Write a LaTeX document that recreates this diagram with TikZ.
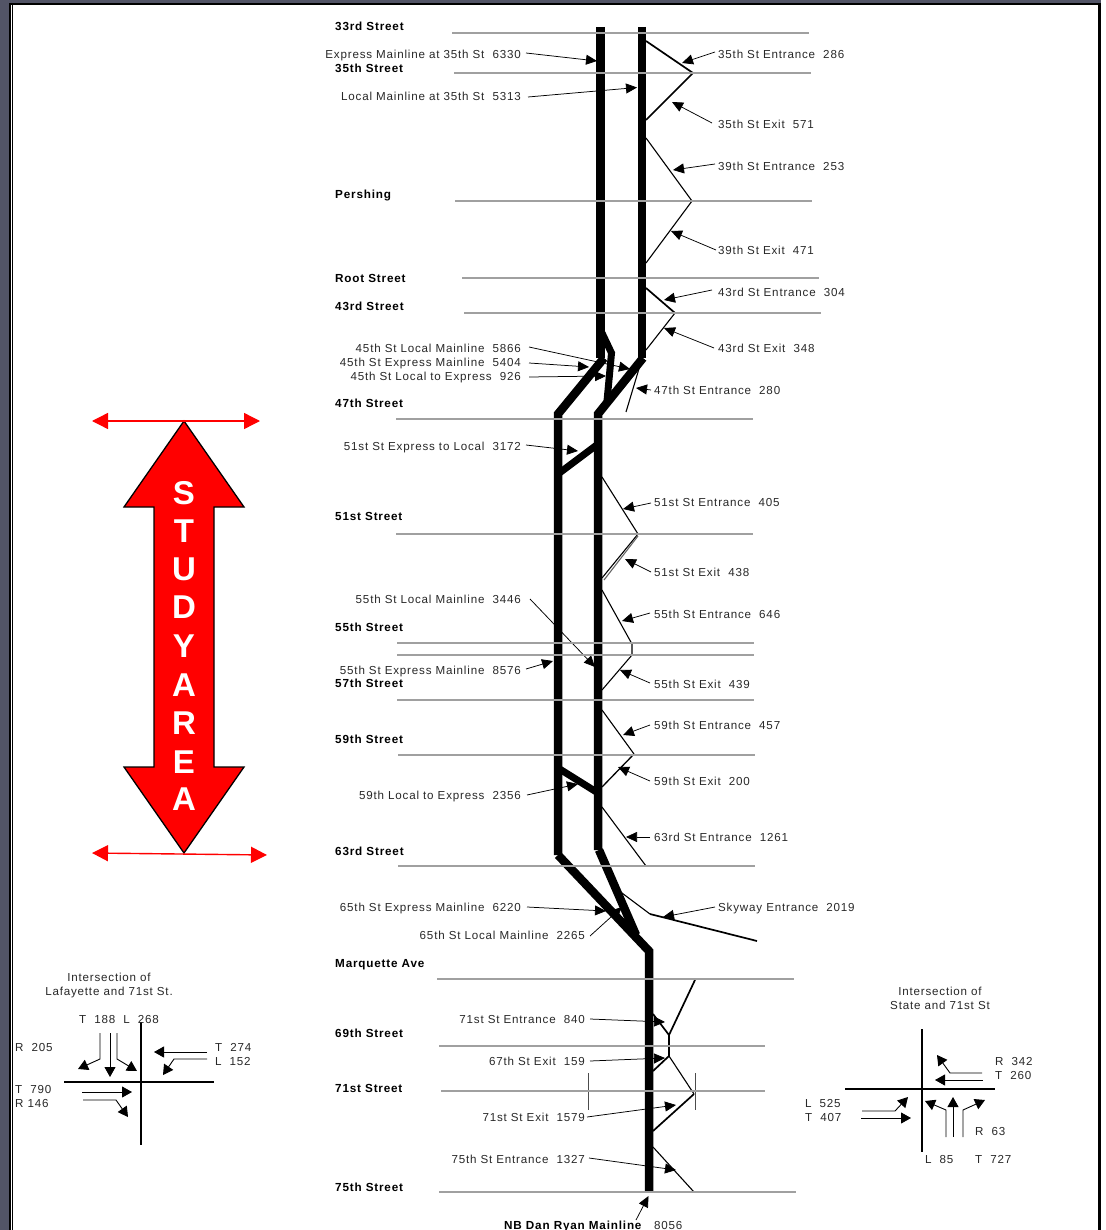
\documentclass[tikz,border=0pt]{standalone}
\usepackage{fontspec}
\setmainfont{Liberation Sans}
\usetikzlibrary{arrows.meta}
\definecolor{streetgrey}{RGB}{160,160,160}
\definecolor{framedark}{RGB}{82,84,102}
\definecolor{labelgrey}{RGB}{40,40,40}
\newfontfamily\lblfont[LetterSpace=7]{Liberation Sans}
\newfontfamily\boldlbl[LetterSpace=7]{Liberation Sans Bold}
\tikzset{
  x=1pt,y=-1pt,
  tl/.style={font=\lblfont\fontsize{11.6}{13}\selectfont,text=labelgrey,inner sep=0pt,anchor=base west},
  tr/.style={font=\lblfont\fontsize{11.6}{13}\selectfont,text=labelgrey,inner sep=0pt,anchor=base east},
  tc/.style={font=\lblfont\fontsize{11.6}{13}\selectfont,text=labelgrey,inner sep=0pt,anchor=base},
  street/.style={font=\boldlbl\fontsize{11.7}{13}\selectfont,inner sep=0pt,anchor=base west},
  streetline/.style={draw=streetgrey,line width=1.3pt},
  lead/.style={draw=black,line width=.75pt,-{Triangle[length=11pt,width=10pt]}},
  main/.style={line width=8.5pt,line join=miter,draw=black},
  conn/.style={line width=7pt,line join=miter,draw=black},
  ramp/.style={draw=black,line width=1.1pt},
  rampb/.style={draw=black,line width=1.7pt},
  xbar/.style={draw=black,line width=1.7pt},
  turn/.style={draw=black,line width=.9pt,-{Triangle[length=10pt,width=11pt]}},
  redarr/.style={draw=red,line width=1.4pt,{Triangle[length=16pt,width=16pt]}-{Triangle[length=16pt,width=16pt]}},
  studyl/.style={font=\fontsize{33}{36}\selectfont\bfseries,text=white,inner sep=0pt,anchor=center},
}
\begin{document}
\begin{tikzpicture}
\useasboundingbox (0,0) rectangle (1105,1230);
\clip (0,0) rectangle (1105,1230);
% frame
\fill[white] (0,0) rectangle (1105,1230);
\fill[framedark] (0,0) rectangle (9,1230);
\fill[framedark] (0,0) rectangle (1100.7,3.3);
\fill[black] (9,3.3) rectangle (10.7,1230);
\fill[black] (11.7,3.3) rectangle (13.3,1230);
\fill[black] (9,3.3) rectangle (1100.7,5.5);
\fill[black] (1098,3.3) rectangle (1100.7,1230);

% ends of the leaders
\foreach \n/\x/\y in {
  aS/526/53,aT/597/61,bS/528/97,bT/637/87.5,cS/715/52,cT/682/63,dS/712/123,dT/672/102,
  eS/715/164,eT/673/170,fS/716/250,fT/671/231,gS/712/290,gT/664/300,hS/714/348,hT/664/328,
  iS/529/347,iT/630/369,jS/529/363,jT/589/367,kS/529/377,kT/606/376,lS/651/390,lT/636/388,
  mS/526/445,mT/578/451,nS/651/503,nT/623/509,oS/651/572,oT/625/559,pS/650/613,pT/622/621,
  qS/530/599,qT/595/667,rS/526/669,rT/553/661,sS/650/683,sT/620/670,tS/650/725,tT/623/735,
  uS/650/781,uT/618/767,vS/527/795,vT/578/784,wS/650/837,wT/626/837,xS/527/907,xT/606/911,
  yS/590/936,yT/622/907,zS/715/907,zT/663/917,
  AS/590/1019,AT/665/1022,BS/590/1061,BT/665/1058,CS/587/1117,CT/676/1105,DS/589/1158,DT/676/1170,
  ES/636/1220,ET/648.5/1196}{
  \coordinate (\n) at (\x,\y);
}
\foreach \n in {a,b,c,d,e,f,g,h,i,j,k,l,m,n,o,p,q,r,s,t,u,v,w,x,y,z,A,B,C,D,E}{
  \draw[lead] (\n S) -- (\n T);
}

% ramps
\draw[rampb] (646,41) -- (693,73) -- (646,120);
\draw[ramp] (646,138) -- (692,201) -- (646,263);
\draw[rampb] (646,288) -- (675,313);
\draw[ramp] (675,313) -- (646,350);
\draw[ramp] (641,362) -- (626,412);
\draw[ramp] (602,477) -- (638,534) -- (602,578);
\draw[ramp,draw=black!60] (638,536) -- (604,580);
\draw[ramp] (602,590) -- (632,644) -- (632,655) -- (602,690);
\draw[ramp] (602,710) -- (634,754);
\draw[rampb,line width=1.3pt] (634,754) -- (602,787);
\draw[ramp] (602,807) -- (646,866);
\draw[ramp] (618,890) -- (650,914);
\draw[rampb] (650,914) -- (757,941);
\draw[rampb] (653,1014) -- (669,1035) -- (695,980);
\draw[rampb] (669,1035) -- (669,1056) -- (653,1071);
\draw[ramp] (669,1056) -- (694,1094);
\draw[rampb] (694,1094) -- (653,1131);
\draw[ramp] (653,1147) -- (694,1192);
\draw[draw=black!70,line width=1pt] (588,1073) -- (588,1110);
\draw[draw=black!70,line width=1pt] (695,1073) -- (695,1110);

% mainlines
\draw[main] (600.5,27) -- (600.5,358);
\draw[main] (642,27) -- (642,358);
\draw[main] (604,358) -- (558,414) -- (558,855);
\draw[main] (643,358) -- (598,414) -- (598,850);
\draw[conn] (602,333) -- (611.5,353) -- (607,401);
\draw[conn] (558,474) -- (598,444);
\draw[conn] (558,768) -- (598,793);
\draw[main] (558,855) -- (649,951) -- (649,1192);
\draw[main] (599,850) -- (636,935);

% street lines
\foreach \xa/\xb/\yy in {452/809/33,454/811/73,455/812/201,462/819/278,464/821/313,396/753/419,396/753/534,397/754/643,397/754/655,397/754/700,398/755/755,398/755/866,437/794/979,439/765/1046,441/765/1091,439/796/1192}{
  \draw[streetline] (\xa,\yy) -- (\xb,\yy);
}

% street names
\node[street] (s33) at (335,30.5) {33rd Street};
\node[street] (s35) at (335,73) {35th Street};
\node[street] (sPe) at (335,199) {Pershing};
\node[street] (sRo) at (335,283) {Root Street};
\node[street] (s43) at (335,310) {43rd Street};
\node[street] (s47) at (335,407.5) {47th Street};
\node[street] (s51) at (335,520) {51st Street};
\node[street] (s55) at (335,631.5) {55th Street};
\node[street] (s57) at (335,687.5) {57th Street};
\node[street] (s59) at (335,743.5) {59th Street};
\node[street] (s63) at (335,855.5) {63rd Street};
\node[street] (sMa) at (335,967) {Marquette Ave};
\node[street] (s69) at (335,1037) {69th Street};
\node[street] (s71) at (335,1092.5) {71st Street};
\node[street] (s75) at (335,1191) {75th Street};

% labels, left side
\node[tr] (la) at (521,59) {Express Mainline at 35th St\ \ 6330};
\node[tr] (lb) at (521,101) {Local Mainline at 35th St\ \ 5313};
\node[tr] (li) at (521,352) {45th St Local Mainline\ \ 5866};
\node[tr] (lj) at (521,366) {45th St Express Mainline\ \ 5404};
\node[tr] (lk) at (521,380) {45th St Local to Express\ \ 926};
\node[tr] (lm) at (521,450) {51st St Express to Local\ \ 3172};
\node[tr] (lq) at (521,603.5) {55th St Local Mainline\ \ 3446};
\node[tr] (lr) at (521,674) {55th St Express Mainline\ \ 8576};
\node[tr] (lv) at (521,799.5) {59th Local to Express\ \ 2356};
\node[tr] (lx) at (521,911.5) {65th St Express Mainline\ \ 6220};
\node[tr] (ly) at (585,939.5) {65th St Local Mainline\ \ 2265};
\node[tr] (lA) at (585,1023) {71st St Entrance\ \ 840};
\node[tr] (lB) at (585,1065) {67th St Exit\ \ 159};
\node[tr] (lC) at (585,1121) {71st St Exit\ \ 1579};
\node[tr] (lD) at (585,1163) {75th St Entrance\ \ 1327};
% labels, right side
\node[tl] (lc) at (718,59) {35th St Entrance\ \ 286};
\node[tl] (ld) at (718,129) {35th St Exit\ \ 571};
\node[tl] (le) at (718,171) {39th St Entrance\ \ 253};
\node[tl] (lf) at (718,255) {39th St Exit\ \ 471};
\node[tl] (lg) at (718,297) {43rd St Entrance\ \ 304};
\node[tl] (lh) at (718,352) {43rd St Exit\ \ 348};
\node[tl] (ll) at (654,394) {47th St Entrance\ \ 280};
\node[tl] (ln) at (654,506) {51st St Entrance\ \ 405};
\node[tl] (lo) at (654,576) {51st St Exit\ \ 438};
\node[tl] (lp) at (654,618) {55th St Entrance\ \ 646};
\node[tl] (ls) at (654,688) {55th St Exit\ \ 439};
\node[tl] (lt) at (654,729.5) {59th St Entrance\ \ 457};
\node[tl] (lu) at (654,785.5) {59th St Exit\ \ 200};
\node[tl] (lw) at (654,841.5) {63rd St Entrance\ \ 1261};
\node[tl] (lz) at (718,911.5) {Skyway Entrance\ \ 2019};
\node[anchor=base west,inner sep=0pt,font=\boldlbl\fontsize{11.7}{13}\selectfont] (lE) at (504,1229.5) {NB Dan Ryan Mainline};
\node[tl] (lE2) at (654,1229.5) {8056};

% study arrow
\draw[fill=red,draw=black,line width=1.3pt,line join=miter] (184,421) -- (244,507) -- (214,507) -- (214,767) -- (244,767) -- (184,853) -- (124,767) -- (154,767) -- (154,507) -- (124,507) -- cycle;
\coordinate (r1a) at (92,421); \coordinate (r1b) at (260,421);
\coordinate (r2a) at (92,853); \coordinate (r2b) at (267,855);
\draw[redarr] (r1a) -- (r1b);
\draw[redarr] (r2a) -- (r2b);
\foreach \n/\c/\yy in {st1/S/493,st2/T/531,st3/U/569,st4/D/607,st5/Y/646,st6/A/685,st7/R/723,st8/E/762,st9/A/799}{
  \node[studyl] (\n) at (184,\yy) {\c};
}

% Lafayette intersection
\node[tc] (lt1) at (109,981) {Intersection of};
\node[tc] (lt2) at (109,995) {Lafayette and 71st St.};
\draw[xbar] (141,1022) -- (141,1145);
\draw[xbar] (64,1082) -- (214,1082);
\node[tl] (la1) at (79,1023) {T\ \ 188\ \ L\ \ 268};
\node[tl] (la2) at (15,1051) {R\ \ 205};
\node[tl] (la3) at (215,1051) {T\ \ 274};
\node[tl] (la4) at (215,1065) {L\ \ 152};
\node[tl] (la5) at (15,1093) {T\ \ 790};
\node[tl] (la6) at (15,1107) {R 146};
\draw[turn] (100,1033) -- (100,1059) -- (78,1069);
\draw[turn] (110,1033) -- (110,1077);
\draw[turn] (117,1033) -- (117,1059) -- (137,1071);
\draw[turn] (207,1052) -- (154,1052);
\draw[turn] (207,1059) -- (174,1059) -- (163,1075);
\draw[turn] (82,1092) -- (132,1092);
\draw[turn] (83,1100) -- (116,1100) -- (128,1117);

% State intersection
\node[tc] (st1t) at (940,995) {Intersection of};
\node[tc] (st2t) at (940,1009) {State and 71st St};
\draw[xbar] (922,1029) -- (922,1152);
\draw[xbar] (845,1089) -- (995,1089);
\node[tl] (sa1) at (995,1065) {R\ \ 342};
\node[tl] (sa2) at (995,1079) {T\ \ 260};
\node[tl] (sa3) at (805,1107) {L\ \ 525};
\node[tl] (sa4) at (805,1121) {T\ \ 407};
\node[tl] (sa5) at (975,1135) {R\ \ 63};
\node[tl] (sa6) at (925,1163) {L\ \ 85};
\node[tl] (sa7) at (975,1163) {T\ \ 727};
\draw[turn] (982,1073) -- (950,1073) -- (937,1055);
\draw[turn] (983,1080) -- (935,1080);
\draw[turn] (862,1111) -- (895,1111) -- (908,1097);
\draw[turn] (861,1118) -- (911,1118);
\draw[turn] (946,1137) -- (946,1110) -- (925,1101);
\draw[turn] (953,1137) -- (953,1097);
\draw[turn] (963,1137) -- (963,1110) -- (985,1100);
\end{tikzpicture}
\end{document}
